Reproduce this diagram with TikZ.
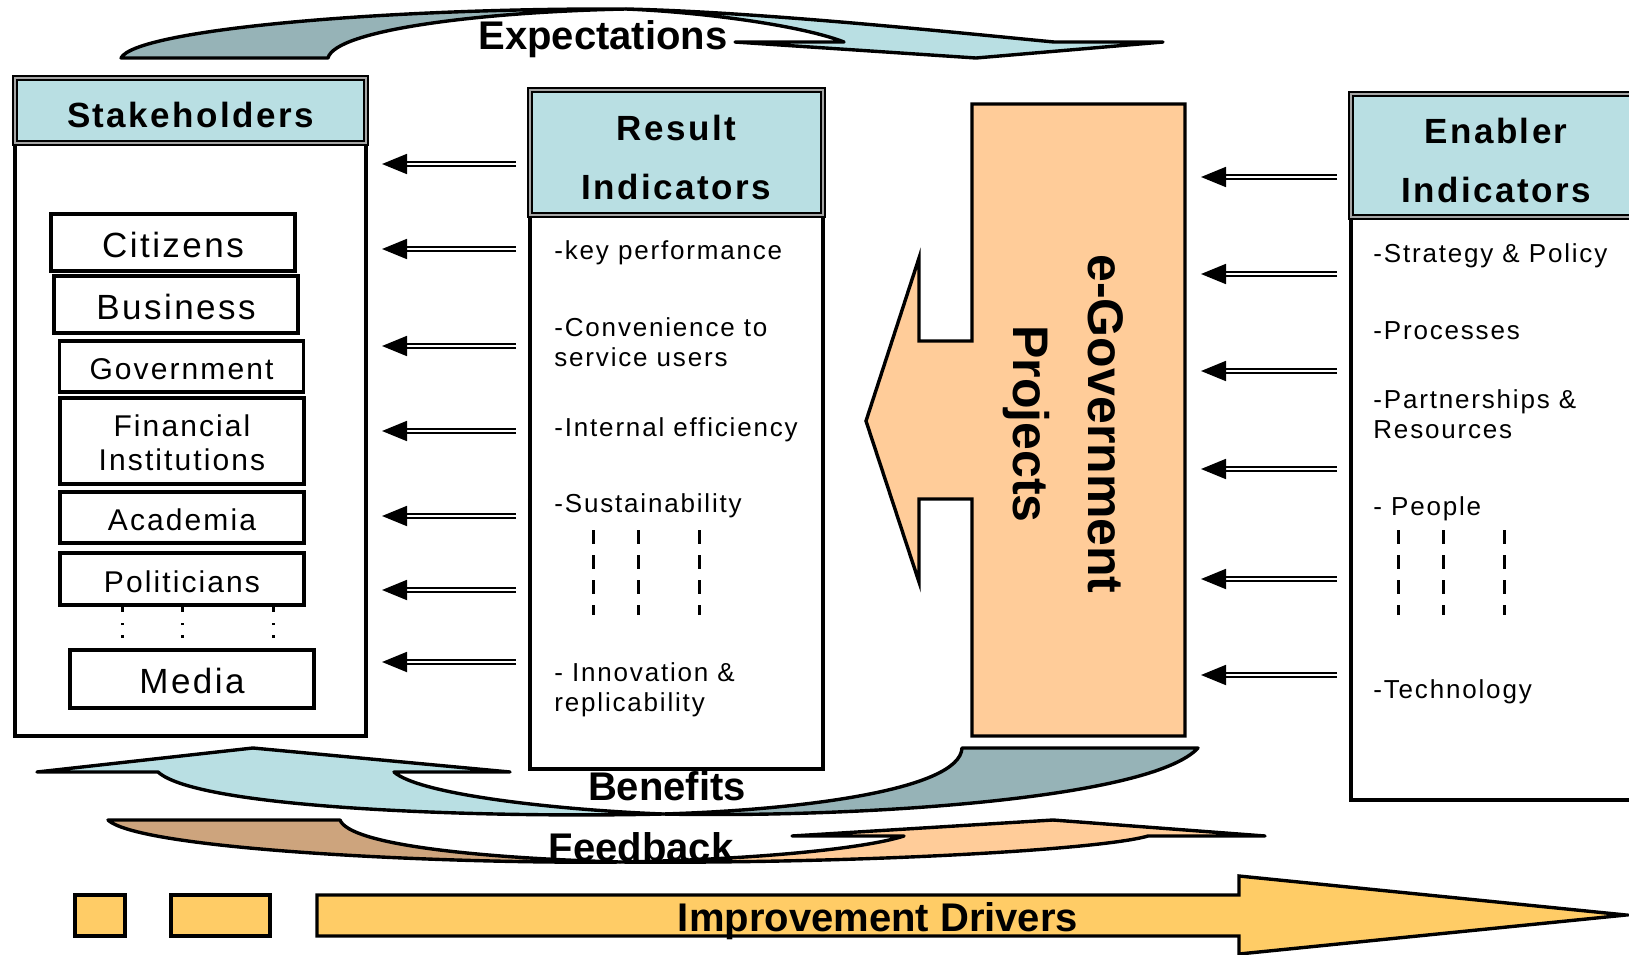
\documentclass[tikz,border=0pt]{standalone}
\usepackage{fontspec}
\setmainfont{Liberation Sans}
\usepackage{tikz}
\usetikzlibrary{positioning,arrows.meta}
\usepackage{xcolor}
\definecolor{tealL}{HTML}{B9DFE3}
\definecolor{tealD}{HTML}{96B3B7}
\definecolor{peach}{HTML}{FFCC99}
\definecolor{tanD}{HTML}{CDA47D}
\definecolor{gold}{HTML}{FFCC66}

\begin{document}
\begin{tikzpicture}[x=0.5pt, y=-0.5pt,
  panel/.style={draw, line width=1.7pt, fill=white, inner sep=0pt, outer sep=0pt, anchor=north west},
  hdr/.style={draw, line width=1.1pt, double=black!35, double distance=1pt, fill=tealL, anchor=north west,
    align=center, inner sep=0pt, outer sep=0pt, text height=17pt,
    font=\fontsize{17.5}{29.5}\selectfont\bfseries\addfontfeature{LetterSpace=7}},
  who/.style={draw, line width=1.6pt, fill=white, minimum width=122pt, align=center, inner sep=0pt, outer sep=0pt,
    text height=13.3pt, font=\fontsize{15}{17}\selectfont\addfontfeature{LetterSpace=7}},
  bigwho/.style={who, text height=15pt, font=\fontsize{17.5}{20}\selectfont\addfontfeature{LetterSpace=7}},
  item/.style={anchor=west, align=left, inner sep=0pt, font=\fontsize{13}{15}\selectfont\addfontfeature{LetterSpace=7}},
  dblarrow/.style={double, double distance=1.1pt, line width=0.9pt, shorten >=8pt, shorten <=7pt,
    -{Triangle[length=12.5pt, width=10pt]}},
  vdash/.style={line width=1.5pt, dash pattern=on 7pt off 5.5pt},
  dots/.style={line width=1.5pt, dash pattern=on 3.5pt off 5.5pt on 1.2pt off 5pt on 1.2pt off 30pt},
  band/.style={draw, line width=1.7pt, line join=round},
  bandtext/.style={inner sep=0pt, font=\fontsize{20}{24}\selectfont\bfseries},
  drv/.style={draw, line width=1.7pt, fill=gold, inner sep=0pt, outer sep=0pt}]

\useasboundingbox (0,0) rectangle (1629,954);
\clip (0,0) rectangle (1629,954);

% expectations
\draw[band, fill=tealL] (626,9) .. controls (760,12) and (950,32) .. (1054,42) -- (1163,42) -- (976,58)
  -- (735,42) -- (844,42) .. controls (800,25) and (700,12) .. (626,9) -- cycle;
\draw[band, fill=tealD] (121,58) .. controls (135,30) and (380,8) .. (626,9)
  .. controls (480,12) and (335,30) .. (328,58) -- cycle;
\node[bandtext] (expt) at (603,39) {Expectations};

% stakeholders
\node[panel, minimum width=175.5pt, minimum height=329pt] (stk) at (15,78) {};
\node[hdr, minimum width=175.5pt, minimum height=32.5pt] (stkhd) at (15,78) {Stakeholders};
\node[bigwho, minimum height=28.5pt] (cit) at (173,242.5) {Citizens};
\node[bigwho, minimum height=28.5pt, below=2.5pt of cit, xshift=1.5pt] (bus) {Business};
\node[who, minimum height=25.5pt, below=4pt of bus, xshift=2.75pt] (gov) {Government};
\node[who, minimum height=43pt, text height=30pt, below=3pt of gov, xshift=0.25pt] (fin) {Financial\\Institutions};
\node[who, minimum height=25.5pt, below=4pt of fin] (aca) {Academia};
\node[who, minimum height=26pt, below=5pt of aca] (pol) {Politicians};
\node[bigwho, minimum height=29pt, below=22.5pt of pol, xshift=5pt] (med) {Media};
\draw[dots] ([xshift=-30pt]pol.south) -- ++(0,41);
\draw[dots] (pol.south) -- ++(0,41);
\draw[dots] ([xshift=45.5pt]pol.south) -- ++(0,41);

% result indicators
\node[panel, minimum width=146.5pt, minimum height=339.5pt] (res) at (530,90) {};
\node[hdr, minimum width=146.5pt, minimum height=62.5pt, text height=47pt] (reshd) at (530,90) {Result\\Indicators};
\node[item] (r1) at (554,253) {-key performance};
\node[item] (r2) at (554,342) {-Convenience to\\service users};
\node[item] (r3) at (554,430) {-Internal efficiency};
\node[item] (r4) at (554,506) {-Sustainability};
\node[item] (r5) at (554,690) {- Innovation \&\\replicability};
\draw[vdash] (593,530) -- (593,615);
\draw[vdash] (638,530) -- (638,615);
\draw[vdash] (699,530) -- (699,615);

% e-government projects
\node[minimum width=106.5pt, minimum height=316pt, inner sep=0pt, outer sep=0pt] (egov) at (1078.5,420) {};
\draw[line width=1.7pt, fill=peach] (egov.north west) -- (egov.north east) -- (egov.south east) -- (egov.south west)
  -- (egov.west |- 0,499) -- (919,499) -- (919,582) -- (866,421) -- (919,258) -- (919,341)
  -- (egov.west |- 0,341) -- cycle;
\node[rotate=-90, align=center, inner sep=0pt, font=\fontsize{25}{37.5}\selectfont\bfseries] (egovtxt)
  at (1063,424) {e-Government\\Projects};

% enabler indicators
\node[panel, minimum width=145pt, minimum height=353pt] (ena) at (1351,94) {};
\node[hdr, minimum width=145pt, minimum height=61.5pt, text height=47pt] (enahd) at (1351,94) {Enabler\\Indicators};
\node[item] (e1) at (1373,256) {-Strategy \& Policy};
\node[item] (e2) at (1373,331) {-Processes};
\node[item] (e3) at (1373,414) {-Partnerships \&\\Resources};
\node[item] (e4) at (1373,509) {- People};
\node[item] (e5) at (1373,692) {-Technology};
\draw[vdash] (1398,530) -- (1398,615);
\draw[vdash] (1443,530) -- (1443,615);
\draw[vdash] (1504,530) -- (1504,615);

% arrows result -> stakeholders
\draw[dblarrow] (res.west |- 0,164) -- (stk.east |- 0,164);
\draw[dblarrow] (res.west |- 0,249) -- (stk.east |- 0,249);
\draw[dblarrow] (res.west |- 0,346) -- (stk.east |- 0,346);
\draw[dblarrow] (res.west |- 0,431) -- (stk.east |- 0,431);
\draw[dblarrow] (res.west |- 0,516) -- (stk.east |- 0,516);
\draw[dblarrow] (res.west |- 0,590) -- (stk.east |- 0,590);
\draw[dblarrow] (res.west |- 0,662) -- (stk.east |- 0,662);

% arrows enabler -> e-government
\draw[dblarrow] (ena.west |- 0,177) -- (egov.east |- 0,177);
\draw[dblarrow] (ena.west |- 0,274) -- (egov.east |- 0,274);
\draw[dblarrow] (ena.west |- 0,371) -- (egov.east |- 0,371);
\draw[dblarrow] (ena.west |- 0,469) -- (egov.east |- 0,469);
\draw[dblarrow] (ena.west |- 0,579) -- (egov.east |- 0,579);
\draw[dblarrow] (ena.west |- 0,675) -- (egov.east |- 0,675);

% benefits
\draw[band, fill=tealL] (37,772) -- (253,748) -- (510,772) -- (394,772) .. controls (420,795) and (560,810) .. (663,814)
  .. controls (500,818) and (200,810) .. (158,772) -- cycle;
\draw[band, fill=tealD] (663,814) .. controls (850,818) and (1150,800) .. (1198,748) -- (962,748)
  .. controls (960,790) and (800,810) .. (663,814) -- cycle;
\node[bandtext] (bnf) at (667,786) {Benefits};

% feedback
\draw[band, fill=tanD] (108,820) -- (340,820) .. controls (350,845) and (480,858) .. (620,862)
  .. controls (450,864) and (140,850) .. (108,820) -- cycle;
\draw[band, fill=peach] (620,862) .. controls (850,864) and (1100,850) .. (1148,836) -- (1265,836) -- (1053,820)
  -- (792,836) -- (904,836) .. controls (860,850) and (740,860) .. (620,862) -- cycle;
\node[bandtext] (fdb) at (641,847) {Feedback};

% improvement drivers
\node[drv, minimum width=25pt, minimum height=20.5pt] (sq1) at (100,915.5) {};
\node[drv, minimum width=49.5pt, minimum height=20.5pt] (sq2) at (220.5,915.5) {};
\draw[drv] (317,895) -- (1239,895) -- (1239,876) -- (1626,915) -- (1239,954) -- (1239,936) -- (317,936) -- cycle;
\node[bandtext] (impr) at (878,921) {Improvement Drivers};
\end{tikzpicture}
\end{document}
